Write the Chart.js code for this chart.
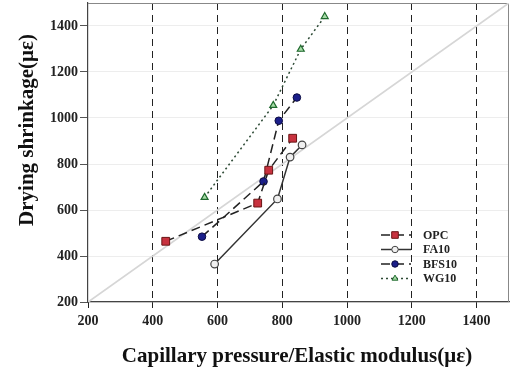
<!DOCTYPE html>
<html><head><meta charset="utf-8">
<script src="https://cdn.jsdelivr.net/npm/chart.js@4/dist/chart.umd.min.js"></script>
<style>html,body{margin:0;padding:0;background:#fff;}#wrap{width:510px;height:370px;}</style>
</head><body><div id="wrap"><canvas id="c" width="510" height="370"></canvas></div>
<script>
const seriesNames = ['OPC', 'FA10', 'BFS10', 'WG10'];
const opcX = [440, 724, 758, 832];
const opcY = [464, 630, 773, 912];
const fa10X = [591, 785, 824, 861];
const fa10Y = [365, 648, 830, 883];
const bfs10X = [552, 742, 789, 845];
const bfs10Y = [484, 724, 988, 1089];
const wg10X = [560, 772, 857, 931];
const wg10Y = [655, 1055, 1299, 1441];
const refX = [200, 1500];
const refY = [200, 1500];
const xTicks = [200, 400, 600, 800, 1000, 1200, 1400];
const yTicks = [200, 400, 600, 800, 1000, 1200, 1400];
const xTitle = 'Capillary pressure/Elastic modulus(\u03bc\u03b5)';
const yTitle = 'Drying shrinkage(\u03bc\u03b5)';

const pts = (xs, ys) => xs.map((x, i) => ({x: x, y: ys[i]}));
const SERIF = '"Liberation Serif", "Times New Roman", serif';

const datasets = [
  {label: seriesNames[0], data: pts(opcX, opcY), borderColor: '#222', borderWidth: 1.5, borderDash: [9, 5],
   pointStyle: 'rect', pointRadius: 5.5, pointBackgroundColor: '#c8323f', pointBorderColor: '#6a1515', pointBorderWidth: 1, showLine: true, order: 1},
  {label: seriesNames[1], data: pts(fa10X, fa10Y), borderColor: '#333', borderWidth: 1.5, borderDash: [],
   pointStyle: 'circle', pointRadius: 3.8, pointBackgroundColor: '#f0f0f0', pointBorderColor: '#444', pointBorderWidth: 1.2, showLine: true, order: 2},
  {label: seriesNames[2], data: pts(bfs10X, bfs10Y), borderColor: '#222', borderWidth: 1.5, borderDash: [9, 5],
   pointStyle: 'circle', pointRadius: 3.8, pointBackgroundColor: '#1b1f8a', pointBorderColor: '#0a0a40', pointBorderWidth: 1, showLine: true, order: 3},
  {label: seriesNames[3], data: pts(wg10X, wg10Y), borderColor: '#2d4a35', borderWidth: 1.5, borderDash: [2, 3],
   pointStyle: 'triangle', pointRadius: 4, pointBackgroundColor: '#a6dba6', pointBorderColor: '#1f6a2e', pointBorderWidth: 1.2, showLine: true, order: 4},
  {label: 'ref', data: pts(refX, refY), borderColor: '#d6d6d6', borderWidth: 1.8, pointRadius: 0, showLine: true, order: 10}
];

const decor = {
  id: 'decor',
  beforeDatasetsDraw(chart) {
    const {ctx, chartArea: a} = chart;
    ctx.save();
    ctx.strokeStyle = '#888';
    ctx.lineWidth = 1;
    ctx.beginPath();
    ctx.moveTo(a.left, a.top + 0.5); ctx.lineTo(a.right - 0.5, a.top + 0.5); ctx.lineTo(a.right - 0.5, a.bottom);
    ctx.stroke();
    ctx.restore();
  },
  afterDraw(chart) {
    const ctx = chart.ctx;
    ctx.save();
    ctx.fillStyle = '#111';
    ctx.font = 'bold 21px ' + SERIF;
    ctx.textAlign = 'center';
    ctx.textBaseline = 'middle';
    ctx.fillText(xTitle, 297, 357);
    ctx.translate(28, 130);
    ctx.rotate(-Math.PI / 2);
    ctx.fillText(yTitle, 0, 0);
    ctx.restore();
    // legend
    const rows = [235, 249.5, 264, 278.5];
    ctx.save();
    chart.data.datasets.slice(0, 4).forEach((ds, i) => {
      const y = rows[i];
      ctx.strokeStyle = ds.borderColor;
      ctx.lineWidth = ds.borderWidth;
      ctx.setLineDash(ds.borderDash || []);
      ctx.beginPath(); ctx.moveTo(381, y); ctx.lineTo(411, y); ctx.stroke();
      ctx.setLineDash([]);
      ctx.fillStyle = ds.pointBackgroundColor;
      ctx.strokeStyle = ds.pointBorderColor;
      ctx.lineWidth = 1;
      Chart.helpers.drawPoint(ctx, {pointStyle: ds.pointStyle, radius: ds.pointRadius * 0.85, rotation: 0, borderWidth: 1}, 395, y);
      ctx.fillStyle = '#222';
      ctx.font = 'bold 12px ' + SERIF;
      ctx.textAlign = 'left';
      ctx.textBaseline = 'middle';
      ctx.fillText(ds.label, 423, y + 0.5);
    });
    ctx.restore();
  }
};

new Chart(document.getElementById('c'), {
  type: 'scatter',
  data: {datasets: datasets},
  options: {
    responsive: false,
    animation: false,
    layout: {autoPadding: false, padding: {top: 3, right: 1, left: 0, bottom: 0}},
    plugins: {legend: {display: false}, tooltip: {enabled: false}},
    scales: {
      x: {
        type: 'linear', min: 200, max: 1500,
        afterBuildTicks: s => { s.ticks = xTicks.map(v => ({value: v})); },
        afterFit: s => { s.height = 68; s.paddingLeft = 0; s.paddingRight = 0; },
        ticks: {padding: 5, color: '#222', font: {family: SERIF, size: 14, weight: 'bold'}, maxRotation: 0, autoSkip: false,
                callback: v => String(v)},
        grid: {color: c => c.tick && c.tick.value === 200 ? 'rgba(0,0,0,0)' : '#222', lineWidth: 1, drawTicks: true, tickLength: 6, tickColor: '#222'},
        border: {display: true, color: '#444', width: 1.2, dash: [7, 5]}
      },
      y: {
        type: 'linear', min: 200, max: 1500,
        afterBuildTicks: s => { s.ticks = yTicks.map(v => ({value: v})); },
        afterFit: s => { s.width = 88; s.paddingTop = 0; s.paddingBottom = 0; },
        ticks: {padding: 2, color: '#222', font: {family: SERIF, size: 14, weight: 'bold'}, autoSkip: false,
                callback: v => String(v)},
        grid: {color: 'rgba(0,0,0,0.07)', lineWidth: 1, drawTicks: true, tickLength: 8, tickColor: '#555'},
        border: {display: true, color: '#444', width: 1.2}
      }
    }
  },
  plugins: [decor]
});
</script></body></html>
